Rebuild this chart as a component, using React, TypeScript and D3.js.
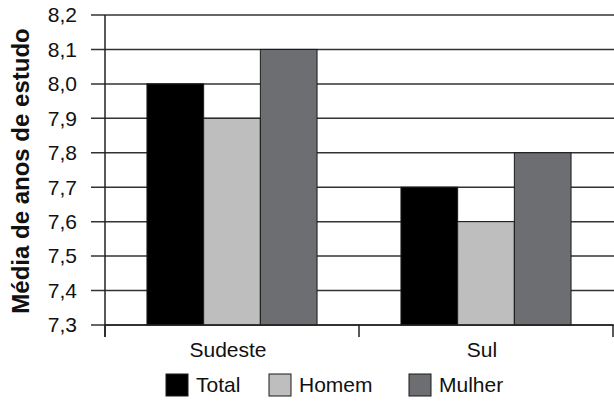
import React, { useEffect, useRef } from 'react'
import * as d3 from 'd3'

const REGIONS = ['Sudeste', 'Sul']
const SERIES = ['Total', 'Homem', 'Mulher']
const VALUES: number[][] = [
  [8.0, 7.9, 8.1],
  [7.7, 7.6, 7.8],
]
const Y_TICKS = [7.3, 7.4, 7.5, 7.6, 7.7, 7.8, 7.9, 8.0, 8.1, 8.2]
const COLORS = ['#000000', '#bebebe', '#6d6e72']

const FONT = 'Liberation Sans, Arial, sans-serif'

export default function App() {
  const svgRef = useRef<SVGSVGElement>(null)

  useEffect(() => {
    if (!svgRef.current) return
    const W = 614
    const H = 401
    const margin = { top: 15, right: 1, bottom: 76, left: 105 }
    const w = W - margin.left - margin.right
    const h = H - margin.top - margin.bottom

    const svg = d3.select(svgRef.current)
    svg.selectAll('*').remove()

    const g = svg.append('g').attr('transform', `translate(${margin.left},${margin.top})`)

    const x0 = d3.scaleBand().domain(REGIONS).range([0, w]).paddingInner(0).paddingOuter(0)
    const x1 = d3
      .scaleBand()
      .domain(SERIES)
      .range([0, x0.bandwidth()])
      .paddingOuter(0.74)
      .paddingInner(0)
    const y = d3.scaleLinear().domain([7.3, 8.2]).range([h, 0])

    // gridlines + y ticks
    g.selectAll('line.grid')
      .data(Y_TICKS)
      .enter()
      .append('line')
      .attr('class', 'grid')
      .attr('x1', -14)
      .attr('x2', w + margin.right)
      .attr('y1', (d) => y(d))
      .attr('y2', (d) => y(d))
      .attr('stroke', '#333')
      .attr('stroke-width', 1.5)

    g.selectAll('text.ytick')
      .data(Y_TICKS)
      .enter()
      .append('text')
      .attr('class', 'ytick')
      .attr('x', -28)
      .attr('y', (d) => y(d))
      .attr('dy', '0.35em')
      .attr('text-anchor', 'end')
      .attr('font-family', FONT)
      .attr('font-size', 21)
      .attr('fill', '#111')
      .text((d) => d3.format('.1f')(d).replace('.', ','))

    // bars
    const groups = g
      .selectAll('g.region')
      .data(REGIONS)
      .enter()
      .append('g')
      .attr('class', 'region')
      .attr('transform', (d) => `translate(${x0(d)},0)`)

    groups
      .selectAll('rect')
      .data((_, i) => VALUES[i].map((v, j) => ({ s: SERIES[j], v, c: COLORS[j] })))
      .enter()
      .append('rect')
      .attr('x', (d) => x1(d.s)!)
      .attr('width', x1.bandwidth())
      .attr('y', (d) => y(d.v))
      .attr('height', (d) => h - y(d.v))
      .attr('fill', (d) => d.c)
      .attr('stroke', '#1a1a1a')
      .attr('stroke-width', 1)

    // axes lines
    g.append('line')
      .attr('x1', 0)
      .attr('x2', 0)
      .attr('y1', 0)
      .attr('y2', h + 12)
      .attr('stroke', '#222')
      .attr('stroke-width', 1.5)

    g.append('line')
      .attr('x1', 0)
      .attr('x2', w)
      .attr('y1', h)
      .attr('y2', h)
      .attr('stroke', '#222')
      .attr('stroke-width', 1.5)

    const boundaries = REGIONS.map((r) => x0(r)!).concat([w])
    g.selectAll('line.xtick')
      .data(boundaries)
      .enter()
      .append('line')
      .attr('class', 'xtick')
      .attr('x1', (d) => d)
      .attr('x2', (d) => d)
      .attr('y1', h)
      .attr('y2', h + 12)
      .attr('stroke', '#222')
      .attr('stroke-width', 1.5)

    g.selectAll('text.xlabel')
      .data(REGIONS)
      .enter()
      .append('text')
      .attr('class', 'xlabel')
      .attr('x', (d) => x0(d)! + x0.bandwidth() / 2 - 4)
      .attr('y', h + 32)
      .attr('text-anchor', 'middle')
      .attr('font-family', FONT)
      .attr('font-size', 21)
      .attr('fill', '#111')
      .text((d) => d)

    // y title
    svg
      .append('text')
      .attr('transform', `translate(29,${margin.top + h / 2 + 1}) rotate(-90)`)
      .attr('text-anchor', 'middle')
      .attr('font-family', FONT)
      .attr('font-weight', 'bold')
      .attr('font-size', 24)
      .attr('fill', '#111')
      .text('Média de anos de estudo')

    // legend
    const legendX = [166, 269, 409]
    const legend = svg
      .selectAll('g.legend')
      .data(SERIES)
      .enter()
      .append('g')
      .attr('class', 'legend')
      .attr('transform', (_, i) => `translate(${legendX[i]},374)`)

    legend
      .append('rect')
      .attr('width', 22)
      .attr('height', 22)
      .attr('fill', (_, i) => COLORS[i])
      .attr('stroke', '#1a1a1a')
      .attr('stroke-width', 1)

    legend
      .append('text')
      .attr('x', 30)
      .attr('y', 11)
      .attr('dy', '0.35em')
      .attr('font-family', FONT)
      .attr('font-size', 21)
      .attr('fill', '#111')
      .text((d) => d)
  }, [])

  return (
    <div style={{ position: 'absolute', left: 0, top: 0 }}>
      <svg ref={svgRef} width={614} height={401} style={{ display: 'block', background: '#fff' }} />
    </div>
  )
}
